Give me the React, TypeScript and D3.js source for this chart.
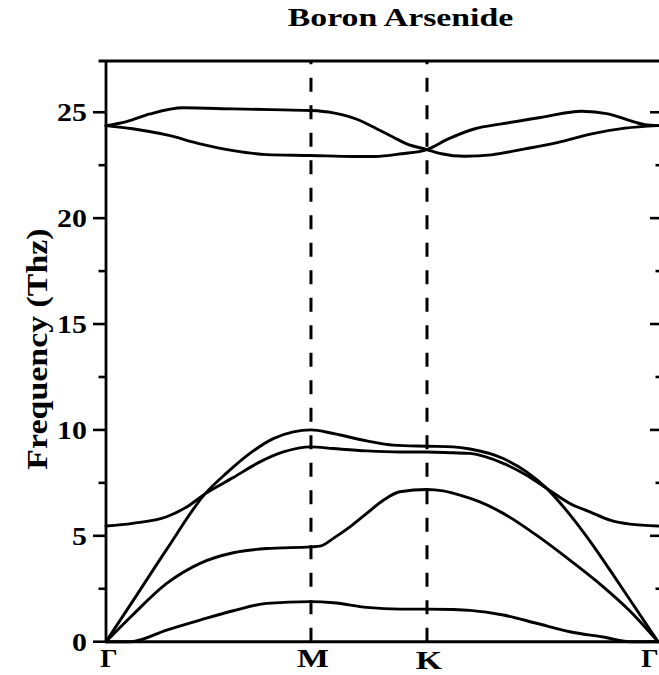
import React from "react";
import * as d3 from "d3";

// High-symmetry points along the Brillouin-zone path (cumulative path length)
const kLabels = ["Γ", "M", "K", "Γ"];
const kPos = [0, 1, 1.566, 2.693];

// Phonon branches as [path position, frequency in THz]
const branchZA: [number, number][] = [
  [0, 0], [0.12, 0], [0.296, 0.55], [0.459, 1.02], [0.621, 1.46],
  [0.784, 1.81], [1.0, 1.89], [1.109, 1.84], [1.272, 1.62], [1.434, 1.54],
  [1.566, 1.54], [1.694, 1.52], [1.776, 1.48], [1.938, 1.26], [2.1, 0.87],
  [2.263, 0.47], [2.426, 0.22], [2.556, 0], [2.693, 0],
];
const branchTA: [number, number][] = [
  [0, 0], [0.13, 1.26], [0.296, 2.75], [0.459, 3.7], [0.621, 4.2], [0.784, 4.4],
  [1.0, 4.48], [1.044, 4.51], [1.109, 4.88], [1.19, 5.42], [1.272, 6.06],
  [1.353, 6.68], [1.434, 7.08], [1.566, 7.19], [1.645, 7.12], [1.727, 6.92],
  [1.824, 6.6], [1.938, 6.06], [2.1, 5.03], [2.263, 3.85], [2.426, 2.59],
  [2.556, 1.45], [2.693, 0],
];
const branchLA: [number, number][] = [
  [0, 0], [0.15, 2.2], [0.296, 4.36], [0.483, 6.98], [0.589, 7.97], [0.702, 8.89],
  [0.816, 9.59], [0.914, 9.91], [1.0, 10.0], [1.109, 9.83], [1.272, 9.48],
  [1.402, 9.28], [1.566, 9.23], [1.694, 9.2], [1.776, 9.1], [1.938, 8.65],
  [2.052, 8.02], [2.15, 7.24], [2.263, 6.0], [2.361, 4.75], [2.459, 3.38],
  [2.556, 1.98], [2.693, 0],
];
const branchZO: [number, number][] = [
  [0, 5.46], [0.13, 5.59], [0.296, 5.9], [0.4, 6.4], [0.483, 6.98], [0.621, 7.75],
  [0.751, 8.49], [0.865, 8.96], [1.0, 9.2], [1.109, 9.12], [1.272, 9.01],
  [1.434, 8.96], [1.566, 8.96], [1.694, 8.92], [1.776, 8.89], [1.938, 8.42],
  [2.052, 7.86], [2.15, 7.24], [2.263, 6.53], [2.361, 6.13], [2.459, 5.74],
  [2.556, 5.55], [2.693, 5.46],
];
const branchOpticA: [number, number][] = [
  [0, 24.37], [0.1, 24.56], [0.215, 24.92], [0.377, 25.21], [0.621, 25.16],
  [0.865, 25.11], [1.0, 25.08], [1.109, 24.97], [1.239, 24.61], [1.32, 24.22],
  [1.402, 23.82], [1.467, 23.51], [1.566, 23.24], [1.637, 23.04], [1.751, 22.92],
  [1.881, 22.99], [2.044, 23.27], [2.206, 23.58], [2.369, 23.98], [2.532, 24.25],
  [2.693, 24.37],
];
const branchOpticB: [number, number][] = [
  [0, 24.37], [0.13, 24.22], [0.296, 23.93], [0.459, 23.51], [0.621, 23.19],
  [0.784, 23.0], [1.0, 22.96], [1.207, 22.91], [1.312, 22.91], [1.442, 23.04],
  [1.566, 23.24], [1.67, 23.74], [1.8, 24.22], [1.93, 24.45], [2.125, 24.76],
  [2.32, 25.05], [2.45, 24.92], [2.58, 24.53], [2.63, 24.41], [2.693, 24.37],
];
const branches = [branchZA, branchTA, branchLA, branchZO, branchOpticA, branchOpticB];

const majorTicks = [0, 5, 10, 15, 20, 25];
const minorTicks = [2.5, 7.5, 12.5, 17.5, 22.5];

const titleText = "Boron Arsenide";
const yLabelText = "Frequency (Thz)";

const W = 659;
const H = 675;
const FONT = "'Liberation Serif', 'Times New Roman', serif";
const STRETCH = 1.3;
const TICK_STRETCH = 1.15;

export default function App() {
  const left = 106;
  const dataRight = 658;
  const frameRight = 663;
  const top = 61;
  const bottom = 641.7;
  const majorLen = 13;
  const minorLen = 7.5;

  const x = d3.scaleLinear().domain([0, kPos[kPos.length - 1]]).range([left, dataRight]);
  const y = d3.scaleLinear().domain([0, 27.42]).range([bottom, top]);

  const line = d3
    .line<[number, number]>()
    .x((d) => x(d[0]))
    .y((d) => y(d[1]))
    .curve(d3.curveMonotoneX);

  // label placement along the bottom axis
  const kLabelX = (i: number) =>
    i === kPos.length - 1 ? x(kPos[i]) - 8 : x(kPos[i]) + (i === 0 ? 3 : 2);
  const kLabelY = (lab: string) => (lab === "K" ? 669 : 667);

  return (
    <svg
      width={W}
      height={H}
      style={{ position: "absolute", left: 0, top: 0, background: "#fff" }}
      fontFamily={FONT}
      fontWeight="bold"
    >
      <rect x={0} y={0} width={W} height={H} fill="#fff" />

      {/* title */}
      <text
        transform={`translate(400.5,25.7) scale(${STRETCH},1)`}
        textAnchor="middle"
        fontSize={26}
        fill="#000"
      >
        {titleText}
      </text>

      {/* y-axis title */}
      <text
        transform={`translate(47,349) rotate(-90) scale(1.13,1)`}
        textAnchor="middle"
        fontSize={30}
        fill="#000"
      >
        {yLabelText}
      </text>

      {/* dashed verticals at interior high-symmetry points */}
      {kPos.slice(1, -1).map((k, i) => (
        <line
          key={`dash-${i}`}
          x1={x(k)}
          x2={x(k)}
          y1={bottom}
          y2={top}
          stroke="#000"
          strokeWidth={3}
          strokeDasharray="14 13.5"
        />
      ))}

      {/* phonon dispersion curves */}
      {branches.map((b, i) => (
        <path
          key={`b-${i}`}
          d={line(b) ?? ""}
          fill="none"
          stroke="#000"
          strokeWidth={2.9}
          strokeLinejoin="round"
          strokeLinecap="round"
        />
      ))}

      {/* frame */}
      <line x1={left} x2={left} y1={top} y2={bottom} stroke="#000" strokeWidth={2.8} />
      <line x1={left - minorLen} x2={frameRight} y1={top} y2={top} stroke="#000" strokeWidth={2.8} />
      <line x1={left} x2={frameRight} y1={bottom} y2={bottom} stroke="#000" strokeWidth={3} />
      <line x1={frameRight} x2={frameRight} y1={top} y2={bottom} stroke="#000" strokeWidth={2.8} />

      {/* left ticks (outward) */}
      {majorTicks.map((t) => (
        <line key={`lM-${t}`} x1={left - majorLen} x2={left} y1={y(t)} y2={y(t)} stroke="#000" strokeWidth={2.6} />
      ))}
      {minorTicks.map((t) => (
        <line key={`lm-${t}`} x1={left - minorLen} x2={left} y1={y(t)} y2={y(t)} stroke="#000" strokeWidth={2.6} />
      ))}
      {/* right ticks (inward) */}
      {majorTicks.map((t) => (
        <line key={`rM-${t}`} x1={frameRight - majorLen} x2={frameRight} y1={y(t)} y2={y(t)} stroke="#000" strokeWidth={2.6} />
      ))}
      {minorTicks.map((t) => (
        <line key={`rm-${t}`} x1={frameRight - minorLen} x2={frameRight} y1={y(t)} y2={y(t)} stroke="#000" strokeWidth={2.6} />
      ))}

      {/* y tick labels */}
      {majorTicks.map((t) => (
        <text
          key={`yl-${t}`}
          transform={`translate(87,${y(t) + 9}) scale(${TICK_STRETCH},1)`}
          textAnchor="end"
          fontSize={26}
          fill="#000"
        >
          {t}
        </text>
      ))}

      {/* high-symmetry point labels */}
      {kLabels.map((lab, i) => (
        <text
          key={`k-${i}`}
          transform={`translate(${kLabelX(i)},${kLabelY(lab)}) scale(${lab === "Γ" ? 1.05 : STRETCH},1)`}
          textAnchor="middle"
          fontSize={26}
          fill="#000"
        >
          {lab}
        </text>
      ))}
    </svg>
  );
}
